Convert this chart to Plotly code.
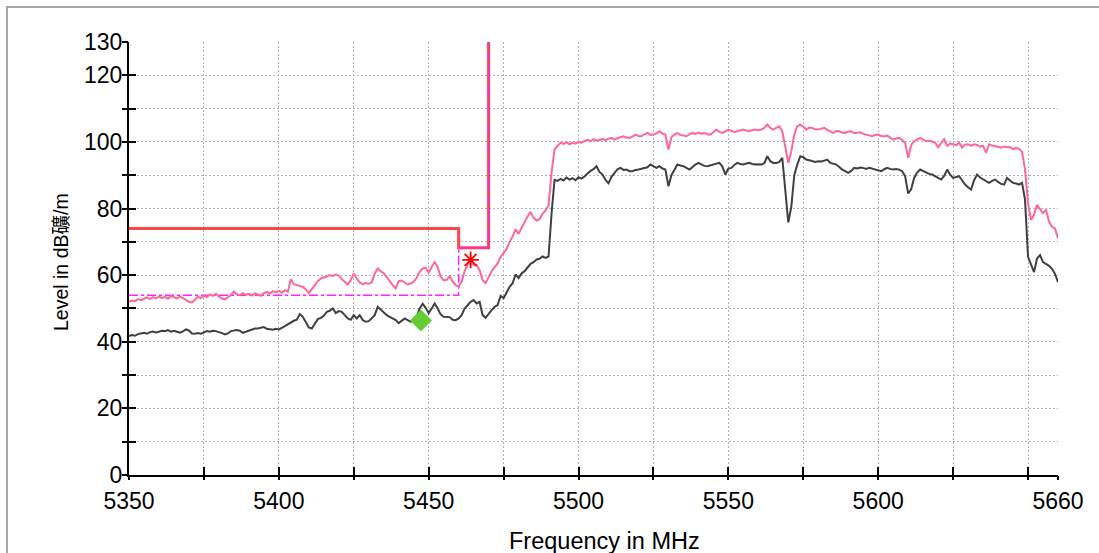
import numpy as np
import plotly.graph_objects as go

# ---- data ----
F_START = 5350  # MHz, 1 MHz step for the measured traces

PEAK = [
    52.0, 52.4, 52.2, 52.8, 52.5, 52.9, 53.3, 52.8, 53.4, 53.0,
    53.6, 53.1, 53.5, 52.9, 53.7, 53.4, 53.0, 53.6, 53.2, 52.6,
    52.0, 51.8, 52.6, 53.5, 53.1, 53.8, 53.4, 54.2, 53.8, 54.4,
    53.6, 53.0, 52.7, 53.4, 54.0, 55.1, 54.3, 54.0, 54.6, 54.1,
    54.4, 53.9, 54.5, 54.2, 53.8, 54.6, 55.0, 54.5, 55.2, 54.8,
    55.3, 54.7, 55.5, 55.0, 58.8, 57.3, 57.0, 56.8, 56.5, 55.7,
    54.6, 55.8, 57.0, 58.2, 59.0, 59.2, 59.6, 60.0, 59.7, 60.2,
    59.9, 58.8, 58.0, 57.2, 58.5, 60.5, 59.0, 57.8, 57.3, 57.6,
    57.4, 57.8, 60.5, 62.0, 61.2, 60.6, 59.4, 58.0, 57.0, 56.0,
    58.2, 58.4, 57.8, 57.2, 57.5, 58.0, 59.2, 61.0, 62.0, 62.2,
    60.8, 62.3, 64.0, 62.4, 59.5, 58.4, 58.6, 59.7, 58.1, 57.0,
    56.6, 58.0, 61.2, 63.2, 63.7, 63.2, 63.0, 61.5, 58.5, 57.6,
    59.5, 61.2, 62.4, 63.5, 65.5, 66.8, 67.8, 70.0, 71.6, 73.8,
    72.4, 74.2, 76.0, 77.6, 79.0, 77.2, 76.4, 76.8, 78.5, 79.4,
    81.0, 90.7, 97.8, 98.8, 99.8, 99.4, 99.9, 99.3, 99.8, 99.5,
    100.1, 99.7, 100.3, 100.6, 100.2, 100.8, 100.4, 100.6, 100.9, 100.5,
    101.0, 101.2, 100.7, 101.1, 101.4, 101.7, 101.3, 101.2, 101.6, 102.2,
    101.8, 101.7, 102.3, 102.7, 102.1, 102.2, 102.6, 103.2, 102.5, 102.2,
    97.7, 101.4, 102.2, 102.7, 102.1, 101.9, 101.7, 102.3, 102.7, 102.4,
    102.8, 102.5, 102.7, 102.3, 102.2, 102.9, 103.7, 103.0, 102.7, 103.2,
    103.7, 103.3, 103.0, 103.2, 103.5, 103.7, 103.4, 103.2, 103.6, 103.7,
    103.5, 103.7, 104.2, 105.2, 104.2, 103.7, 104.2, 104.7, 103.2, 98.5,
    93.7, 97.2, 102.2, 104.7, 105.2, 104.6, 103.7, 104.3, 104.2, 103.8,
    103.7, 104.0, 104.2, 103.6, 103.2, 102.7, 103.3, 103.2, 102.8, 102.7,
    103.1, 103.2, 102.6, 102.7, 102.9, 102.4, 102.2, 102.0, 101.7, 102.1,
    102.2, 101.8, 101.7, 101.9, 101.3, 100.7, 101.0, 101.2, 100.6, 99.7,
    95.2, 99.0, 100.2, 100.8, 101.2, 100.7, 100.2, 100.4, 100.2, 99.8,
    98.4, 99.6, 100.8, 98.8, 99.5, 99.3, 99.0, 99.8, 98.3, 99.2,
    99.3, 98.9, 99.3, 99.1, 98.6, 98.8, 96.8, 99.3, 98.9, 98.8,
    98.5, 98.3, 98.6, 98.4, 98.5, 97.8, 98.2, 98.0, 97.0, 91.7,
    81.6, 76.6, 78.1, 81.1, 79.8, 78.6, 79.6, 76.1, 74.5, 74.0,
    71.0,
]

AVERAGE = [
    41.7, 42.0, 41.8, 42.3, 42.5, 42.7, 42.4, 42.9, 43.1, 42.8,
    43.0, 43.3, 43.2, 43.5, 43.0, 43.3, 43.0, 42.7, 43.1, 43.7,
    43.4, 42.5, 42.4, 42.6, 42.4, 42.8, 43.2, 43.0, 43.3, 43.2,
    43.0, 42.6, 42.2, 42.5, 43.2, 43.4, 43.5, 43.3, 42.7, 43.0,
    43.4, 43.8, 44.0, 44.0, 44.2, 44.4, 43.9, 43.7, 43.6, 43.9,
    43.7, 44.2, 44.7, 45.2, 45.9, 46.3, 46.6, 48.3, 47.5, 45.8,
    44.3, 44.0, 45.5, 46.8, 47.2, 47.8, 49.0, 49.3, 50.0, 48.6,
    49.2, 49.0, 48.0, 47.0, 46.6, 48.0, 47.0, 48.0, 46.5, 46.0,
    46.2, 47.0, 48.0, 50.5, 49.6, 48.8, 48.0, 47.5, 47.0, 46.5,
    45.6, 46.4, 47.0, 46.5, 46.0, 46.8, 47.5, 50.0, 51.4, 50.2,
    48.6, 50.0, 51.5, 50.0, 48.2, 47.5, 47.5, 47.4, 46.6, 46.5,
    47.0, 48.0, 50.0, 51.0, 52.0, 52.5, 51.5, 52.0, 48.0, 47.2,
    48.5, 49.5, 50.5, 51.0, 53.8, 53.1, 54.8, 56.5, 57.6, 60.2,
    59.1, 60.5, 61.2, 62.2, 63.4, 63.9, 64.7, 64.9, 65.6, 65.2,
    65.6, 78.5, 88.6, 88.3, 88.9, 88.4, 89.3, 88.7, 89.1, 88.5,
    89.4, 89.0, 89.6, 90.5, 91.3, 91.8, 92.7, 91.0, 90.2, 88.6,
    87.6, 89.5, 90.7, 91.8, 92.2, 91.6, 91.7, 91.2, 91.2, 91.6,
    91.7, 91.9, 92.2, 92.4, 93.2, 92.6, 92.2, 92.7, 92.0, 91.7,
    86.7, 90.0, 91.7, 93.2, 92.9, 92.7, 92.2, 91.7, 92.4, 93.2,
    93.7, 93.2, 92.8, 92.7, 93.0, 93.2, 93.5, 93.7, 92.6, 90.2,
    92.0, 92.2, 93.1, 93.7, 93.4, 93.2, 93.5, 93.7, 93.4, 93.2,
    93.3, 93.2, 93.6, 95.7, 94.2, 93.7, 93.7, 94.0, 95.2, 86.0,
    75.8, 80.5, 90.0, 93.2, 95.7, 95.4, 94.7, 94.5, 94.2, 94.0,
    94.2, 94.1, 94.4, 94.7, 93.7, 93.4, 93.2, 92.5, 91.7, 91.2,
    90.7, 91.3, 92.2, 92.0, 92.3, 92.2, 91.9, 92.2, 92.0, 91.7,
    91.5, 91.2, 91.8, 92.2, 91.9, 91.7, 91.9, 91.7, 91.2, 89.7,
    84.5, 85.8, 89.2, 90.8, 91.7, 91.2, 90.7, 90.4, 90.2, 89.8,
    89.2, 88.7, 89.8, 91.7, 90.2, 89.2, 89.5, 89.7, 88.5, 87.2,
    86.4, 85.7, 88.5, 90.2, 89.3, 88.7, 88.2, 87.7, 88.3, 88.7,
    88.0, 87.4, 87.2, 89.2, 88.4, 87.7, 87.5, 87.2, 87.7, 82.6,
    65.5, 63.4, 60.9, 65.0, 66.0, 63.9, 63.4, 62.8, 61.9, 60.4,
    57.9,
]

LIMIT_F = [5350, 5460, 5460, 5470, 5470]
LIMIT_PEAK = [74, 74, 68.2, 68.2, 130]
LIMIT_AVG = [54, 54, 68.2, 68.2, 130]

PEAK_MARK_F, PEAK_MARK_L = [5464.0], [64.6]
AVG_MARK_F, AVG_MARK_L = [5447.4], [46.4]

X_TICKS = [5350, 5375, 5400, 5425, 5450, 5475, 5500, 5525, 5550, 5575, 5600, 5625, 5650, 5660]
X_LABELS = ["5350", "", "5400", "", "5450", "", "5500", "", "5550", "", "5600", "", "", "5660"]
Y_TICKS = [0, 10, 20, 30, 40, 50, 60, 70, 80, 90, 100, 110, 120, 130]
Y_LABELS = ["0", "", "20", "", "40", "", "60", "", "80", "", "100", "", "120", "130"]

X_TITLE = "Frequency in MHz"
Y_TITLE = "Level in dB礦/m"

freq = F_START + np.arange(len(PEAK))

FONT = "Liberation Sans, Arial, Noto Sans CJK JP, sans-serif"

# plot-area geometry (px) of the reference
L, T, PW, PH = 129, 42, 929, 433
W, H = 1099, 553

fig = go.Figure()
fig.add_trace(go.Scatter(x=LIMIT_F, y=LIMIT_PEAK, mode="lines",
                         line=dict(color="#FF4646", width=3), hoverinfo="skip"))
fig.add_trace(go.Scatter(x=LIMIT_F, y=LIMIT_AVG, mode="lines",
                         line=dict(color="#FF22FF", width=1.5, dash="dashdot"), hoverinfo="skip"))
fig.add_trace(go.Scatter(x=freq, y=AVERAGE, mode="lines",
                         line=dict(color="#404040", width=2)))
fig.add_trace(go.Scatter(x=freq, y=PEAK, mode="lines",
                         line=dict(color="#FF6699", width=2)))
fig.add_trace(go.Scatter(x=AVG_MARK_F, y=AVG_MARK_L, mode="markers",
                         marker=dict(symbol="diamond", size=17, color="#66CC33")))
fig.add_trace(go.Scatter(x=PEAK_MARK_F, y=PEAK_MARK_L, mode="markers",
                         marker=dict(symbol="asterisk-open", size=14, color="#FF0000",
                                     line=dict(color="#FF0000", width=1.8))))
# invisible helper trace so the overlay axes (outer half of the crossing ticks) render
fig.add_trace(go.Scatter(x=[5350], y=[0], xaxis="x2", yaxis="y2", mode="markers",
                         marker=dict(opacity=0), hoverinfo="skip"))

common = dict(showline=True, linecolor="black", linewidth=2, zeroline=False,
              ticks="inside", tickwidth=2, tickcolor="black",
              showgrid=True, gridcolor="#b4b4b4", gridwidth=1, griddash="2px,2px",
              tickfont=dict(family=FONT, size=23, color="black"))

fig.update_layout(
    width=W, height=H,
    margin=dict(l=L, r=W - L - PW, t=T, b=H - T - PH),
    paper_bgcolor="white", plot_bgcolor="white",
    showlegend=False,
    xaxis=dict(range=[5350, 5660], tickmode="array", tickvals=X_TICKS, ticktext=X_LABELS,
               ticklen=8, ticklabelstandoff=4, **common),
    yaxis=dict(range=[0, 130], tickmode="array", tickvals=Y_TICKS, ticktext=Y_LABELS,
               ticklen=7, **common),
    xaxis2=dict(overlaying="x", anchor="y", side="bottom", range=[5350, 5660],
                tickmode="array", tickvals=X_TICKS, ticks="outside", ticklen=4, tickwidth=2,
                tickcolor="black", showticklabels=False, showgrid=False, showline=False,
                zeroline=False),
    yaxis2=dict(overlaying="y", anchor="x", side="left", range=[0, 130],
                tickmode="array", tickvals=Y_TICKS, ticks="outside", ticklen=6, tickwidth=2,
                tickcolor="black", showticklabels=False, showgrid=False, showline=False,
                zeroline=False),
    annotations=[
        dict(text=X_TITLE, xref="paper", yref="paper", x=(604 - L) / PW, y=(T + PH - 541) / PH,
             xanchor="center", yanchor="middle", showarrow=False,
             font=dict(family=FONT, size=23.5, color="black")),
        dict(text=Y_TITLE, xref="paper", yref="paper", x=(61 - L) / PW, y=(T + PH - 262) / PH,
             xanchor="center", yanchor="middle", showarrow=False, textangle=-90,
             font=dict(family=FONT, size=19.5, color="black")),
    ],
    shapes=[dict(type="rect", xref="paper", yref="paper",
                 x0=(7 - L) / PW, x1=1.2, y0=-0.4, y1=(T + PH - 7) / PH,
                 line=dict(color="#a8a8a8", width=2), fillcolor="rgba(0,0,0,0)", layer="below")],
)

fig.write_html("out.html", config={"displayModeBar": False},
               post_script="document.body.style.margin='0';document.body.style.overflow='hidden';")
